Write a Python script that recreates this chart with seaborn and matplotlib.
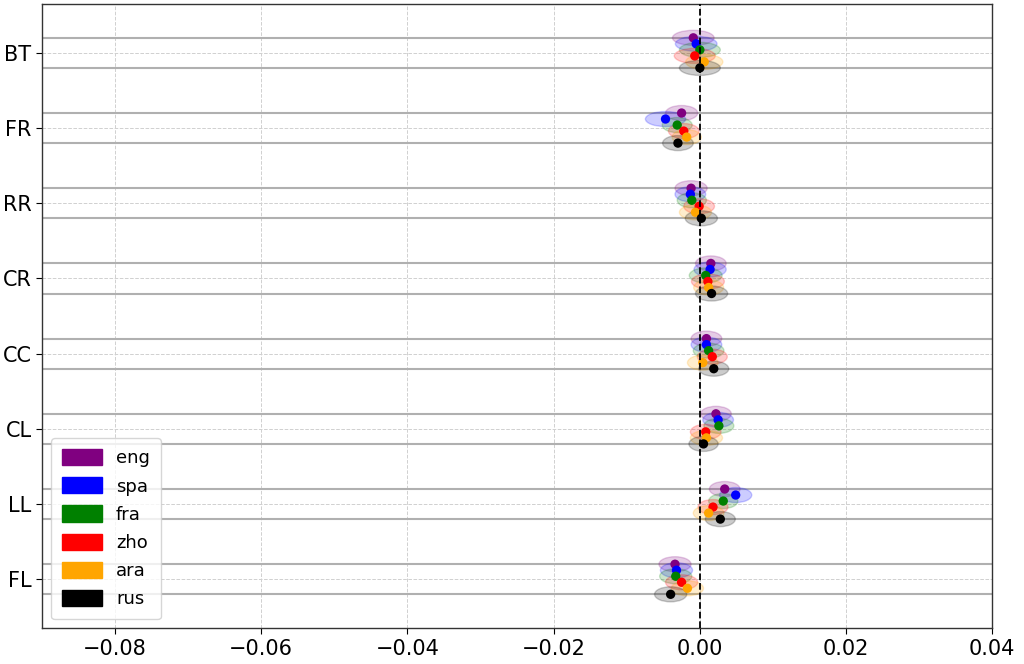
import numpy as np
import pandas as pd
import seaborn as sns
import matplotlib.pyplot as plt
from matplotlib.patches import Ellipse, Patch

# Category rows (top to bottom) and languages
features = ["BT", "FR", "RR", "CR", "CC", "CL", "LL", "FL"]
languages = ["eng", "spa", "fra", "zho", "ara", "rus"]
colors = ["purple", "blue", "green", "red", "orange", "black"]

# Mean effect per feature (rows) and language (columns)
means = [
    [-0.0009, -0.0005, 0.0000, -0.0007, 0.0006, 0.0000],
    [-0.0025, -0.0047, -0.0031, -0.0022, -0.0018, -0.0030],
    [-0.0012, -0.0013, -0.0011, -0.0001, -0.0006, 0.0002],
    [0.0015, 0.0014, 0.0008, 0.0011, 0.0012, 0.0016],
    [0.0009, 0.0009, 0.0012, 0.0017, 0.0004, 0.0019],
    [0.0022, 0.0025, 0.0026, 0.0008, 0.0009, 0.0005],
    [0.0034, 0.0049, 0.0032, 0.0018, 0.0012, 0.0028],
    [-0.0034, -0.0032, -0.0033, -0.0025, -0.0017, -0.0040],
]

# Full width of the uncertainty ellipse
spreads = [
    [0.0057, 0.0057, 0.0056, 0.0056, 0.0051, 0.0056],
    [0.0044, 0.0055, 0.0041, 0.0042, 0.0040, 0.0042],
    [0.0044, 0.0042, 0.0040, 0.0042, 0.0044, 0.0044],
    [0.0042, 0.0044, 0.0045, 0.0045, 0.0041, 0.0044],
    [0.0042, 0.0042, 0.0042, 0.0041, 0.0042, 0.0041],
    [0.0042, 0.0042, 0.0041, 0.0042, 0.0044, 0.0040],
    [0.0042, 0.0044, 0.0040, 0.0041, 0.0042, 0.0041],
    [0.0044, 0.0044, 0.0044, 0.0044, 0.0044, 0.0044],
]

offsets = np.linspace(-0.2, 0.2, len(languages))

rows = []
for i, feat in enumerate(features):
    for j, lang in enumerate(languages):
        rows.append({"feature": feat, "lang": lang, "mean": means[i][j],
                     "spread": spreads[i][j], "y": i + offsets[j]})
df = pd.DataFrame(rows)

sns.set_style("white")
plt.rcParams["font.family"] = ["DejaVu Sans"]
plt.rcParams["text.color"] = "black"
plt.rcParams["xtick.color"] = "black"
plt.rcParams["ytick.color"] = "black"

fig, ax = plt.subplots(figsize=(10.24, 6.64), dpi=100)
fig.subplots_adjust(left=0.041, right=0.969, top=0.994, bottom=0.054)

for _, r in df.iterrows():
    c = colors[languages.index(r["lang"])]
    ax.add_patch(Ellipse((r["mean"], r["y"]), r["spread"], 0.2,
                         facecolor=c, edgecolor=c, alpha=0.2, lw=1, zorder=2))

sns.scatterplot(data=df, x="mean", y="y", hue="lang", palette=colors,
                hue_order=languages, s=45, edgecolor="none", legend=False,
                zorder=3, ax=ax)

for i in range(len(features)):
    ax.axhline(i - 0.2, color="#b0b0b0", lw=1.5, zorder=1)
    ax.axhline(i + 0.2, color="#b0b0b0", lw=1.5, zorder=1)

ax.axvline(0, color="black", ls="--", lw=1.3, zorder=4)

ax.set_xlim(-0.09, 0.04)
ax.set_ylim(7.65, -0.65)
ax.set_yticks(range(len(features)))
ax.set_yticklabels(features)
ax.set_xticks([-0.08, -0.06, -0.04, -0.02, 0.0, 0.02, 0.04])
ax.set_xlabel("")
ax.set_ylabel("")
ax.tick_params(labelsize=15, length=4, left=True, bottom=True,
               labelcolor="black")
ax.grid(True, ls="--", color="#d0d0d0", lw=0.7, zorder=0)
ax.set_axisbelow(True)
for s in ax.spines.values():
    s.set_color("#333333")
    s.set_linewidth(1)

handles = [Patch(color=c, label=l) for c, l in zip(colors, languages)]
ax.legend(handles=handles, loc="lower left", fontsize=13, handlelength=2.2,
          handleheight=1.0, labelspacing=0.55, borderpad=0.6, frameon=True,
          labelcolor="black")

plt.savefig("out.png", dpi=100)
